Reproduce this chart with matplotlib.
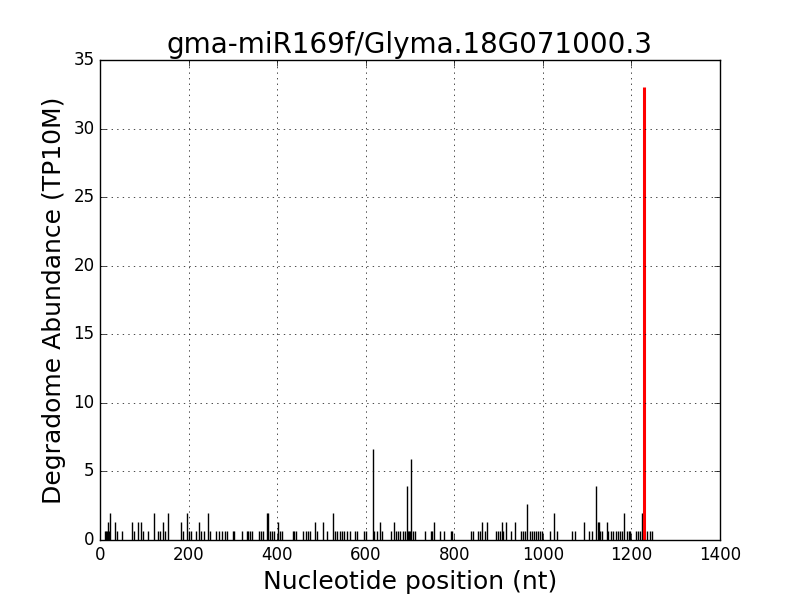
import matplotlib
matplotlib.use("Agg")
import matplotlib.pyplot as plt

plt.style.use('classic')

title = "gma-miR169f/Glyma.18G071000.3"
tp10m_per_read = 0.66

# degradome tag positions (nt) and read counts
positions = [
    11, 14, 16, 18, 20, 23, 34, 38, 50, 72, 77, 86, 93, 97, 108, 122, 131, 135,
    142, 147, 154, 183, 187, 196, 201, 205, 217, 224, 228, 235, 244, 248, 262,
    269, 275, 282, 287, 300, 303, 321, 332, 334, 339, 343, 359, 364, 368, 377,
    379, 384, 388, 393, 402, 406, 411, 436, 438, 443, 458, 465, 470, 474, 485,
    490, 504, 513, 526, 531, 535, 542, 546, 551, 558, 565, 576, 580, 596, 601,
    616, 619, 625, 632, 637, 657, 664, 668, 673, 677, 684, 689, 693, 695, 698,
    700, 702, 707, 711, 734, 747, 750, 754, 768, 777, 793, 795, 838, 842, 854,
    858, 863, 869, 874, 894, 899, 903, 908, 910, 917, 928, 937, 951, 955, 960,
    964, 971, 975, 980, 985, 989, 994, 998, 1016, 1025, 1032, 1066, 1073, 1093,
    1104, 1111, 1120, 1125, 1127, 1129, 1134, 1145, 1147, 1154, 1158, 1165,
    1170, 1174, 1179, 1183, 1190, 1195, 1197, 1210, 1215, 1219, 1224, 1235,
    1242, 1246,
]
reads = [
    1, 1, 1, 2, 1, 3, 2, 1, 1, 2, 1, 2, 2, 1, 1, 3, 1, 1,
    2, 1, 3, 2, 1, 3, 1, 1, 1, 2, 1, 1, 3, 1, 1,
    1, 1, 1, 1, 1, 1, 1, 1, 1, 1, 1, 1, 1, 1, 3,
    3, 1, 1, 1, 2, 1, 1, 1, 1, 1, 1, 1, 1, 1, 2,
    1, 2, 1, 3, 1, 1, 1, 1, 1, 1, 1, 1, 1, 1, 1,
    10, 1, 1, 2, 1, 1, 2, 1, 1, 1, 1, 1, 6, 1, 1,
    1, 9, 1, 1, 1, 1, 1, 2, 1, 1, 1, 1, 1, 1, 1,
    1, 2, 1, 2, 1, 1, 1, 2, 1, 2, 1, 2, 1, 1, 1,
    4, 1, 1, 1, 1, 1, 1, 1, 1, 3, 1, 1, 1, 2,
    1, 1, 6, 2, 2, 1, 1, 2, 1, 1, 1, 1,
    1, 1, 1, 3, 1, 1, 1, 1, 1, 1, 3, 1,
    1, 1,
]

# cleavage site
site_pos = 1228
site_reads = 50

abundance = [r * tp10m_per_read for r in reads]

fig = plt.figure(figsize=(8, 6), dpi=100, facecolor='white')
ax = fig.add_subplot(111)

ax.vlines(positions, 0, abundance, colors='k', linewidth=1.0)
ax.vlines([site_pos], 0, [site_reads * tp10m_per_read], colors='r', linewidth=2.2)

ax.set_xlim(0, 1400)
ax.set_ylim(0, 35)
ax.grid(True)
ax.set_title(title, fontsize=20)
ax.set_xlabel("Nucleotide position (nt)", fontsize=18)
ax.set_ylabel("Degradome Abundance (TP10M)", fontsize=18)

plt.savefig("out.png", dpi=100, facecolor='white')
